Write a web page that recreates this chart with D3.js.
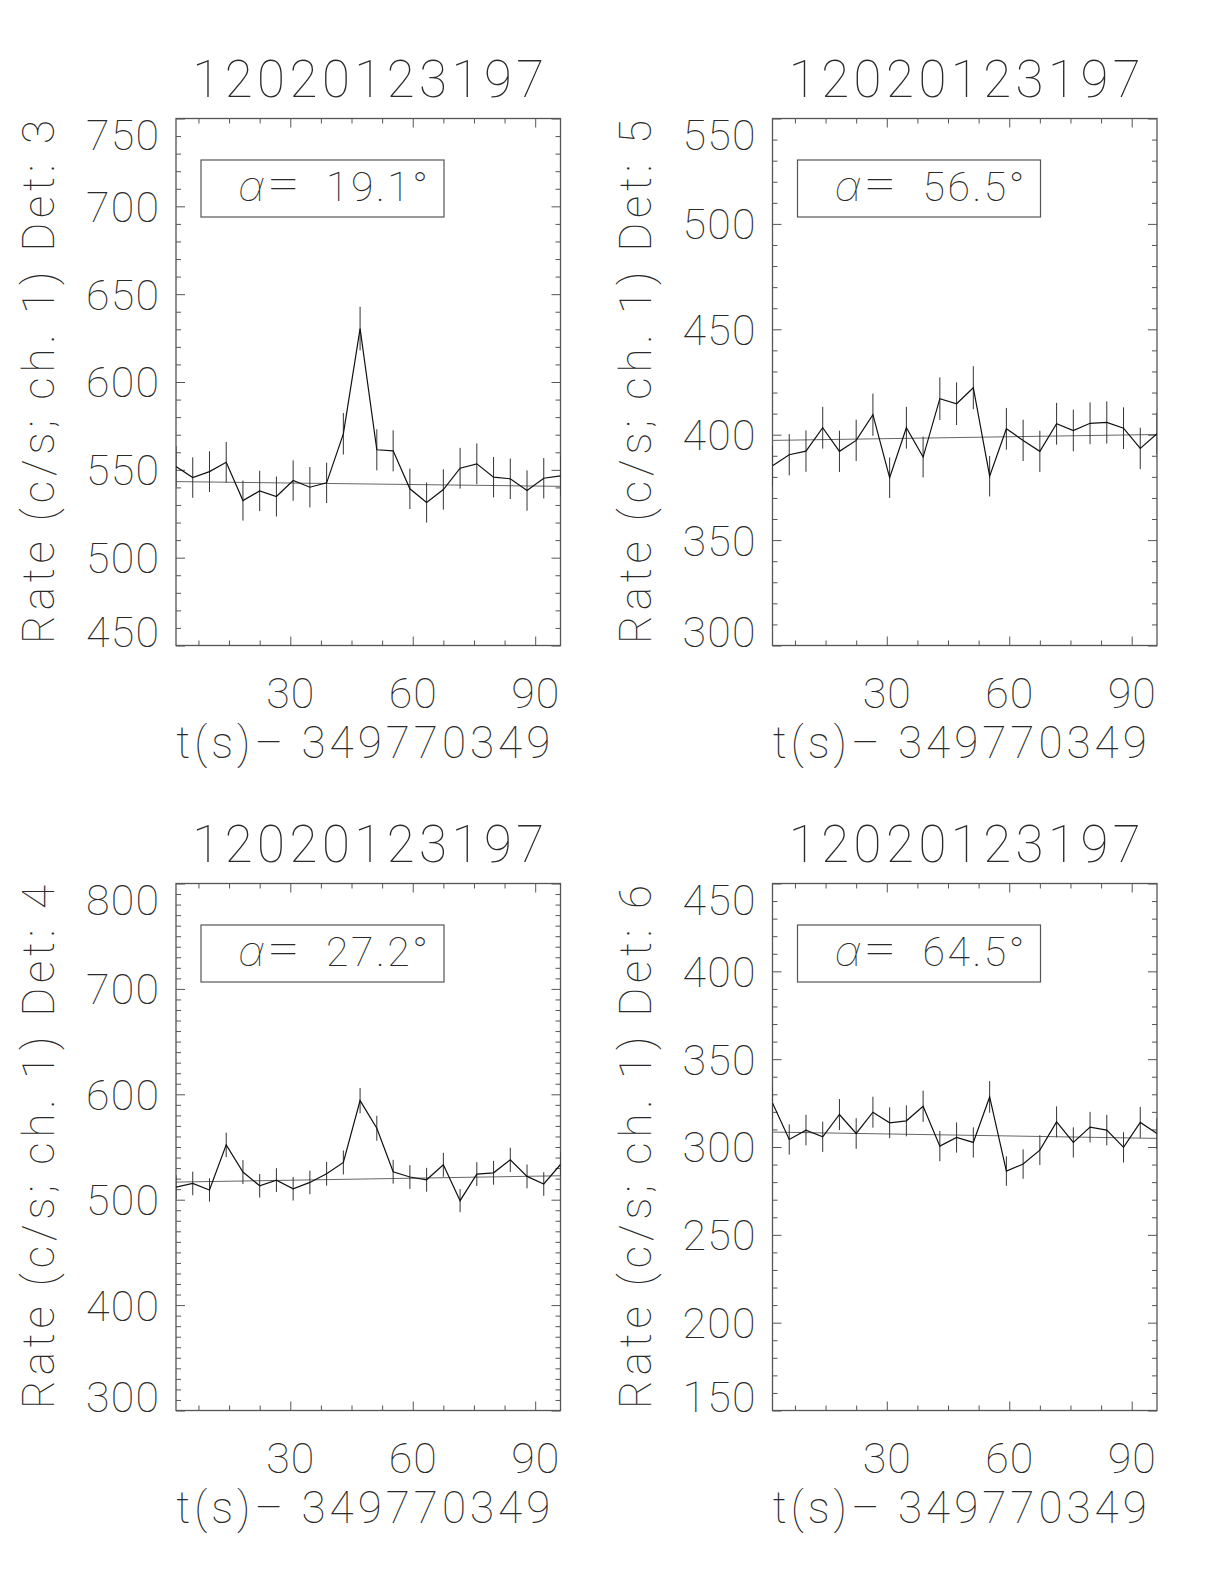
<!DOCTYPE html>
<html><head><meta charset="utf-8">
<script src="https://cdn.jsdelivr.net/npm/d3@7"></script>
<style>
body{margin:0;background:#fff}
text{font-family:Roboto,"DejaVu Sans",sans-serif;font-weight:100;fill:#2a2a2a}
</style>
</head><body>
<svg id="c" width="1224" height="1584" xmlns="http://www.w3.org/2000/svg"></svg>
<script>
// ---------------- data ----------------
const grbName = "12020123197";
const timeOffset = "349770349";
const times = [2.0, 6.1, 10.2, 14.3, 18.4, 22.5, 26.6, 30.7, 34.8, 38.9, 43.0, 47.1,
               51.2, 55.2, 59.3, 63.4, 67.5, 71.6, 75.7, 79.8, 83.9, 88.0, 92.1, 96.2];
const xMajorTicks = [30, 60, 90];
const xMinorTicks = [7.5, 15, 22.5, 37.5, 45, 52.5, 67.5, 75, 82.5];
const detectors = [3, 5, 4, 6];
const angles = ["19.1", "56.5", "27.2", "64.5"];
const yDomains = [[450, 750], [300, 550], [300, 800], [150, 450]];
const yMajorSteps = [50, 50, 100, 50];
const yMinorStep = 10;

const det3Rate = [551.9, 545.6, 549.0, 554.3, 532.5, 538.0, 534.8, 543.9, 540.1, 542.6, 570.5, 630.4,
                  561.4, 560.8, 539.2, 531.4, 538.8, 550.9, 553.4, 545.8, 544.9, 538.2, 545.2, 546.6];
const det3Err  = [11.6, 11.5, 11.6, 11.6, 11.4, 11.5, 11.4, 11.5, 11.5, 11.5, 11.8, 12.4,
                  11.7, 11.7, 11.5, 11.4, 11.5, 11.6, 11.6, 11.5, 11.5, 11.5, 11.5, 11.6];
const det3Fit  = [543.3, 540.6];

const det5Rate = [385.3, 390.5, 392.2, 403.3, 392.1, 397.3, 409.5, 379.6, 403.3, 389.4, 417.1, 414.7,
                  422.3, 380.3, 402.8, 397.3, 392.1, 405.2, 402.0, 405.4, 405.8, 403.1, 393.5, 400.5];
const det5Err  = [9.7, 9.8, 9.8, 9.9, 9.8, 9.8, 10.0, 9.6, 9.9, 9.7, 10.1, 10.1,
                  10.2, 9.6, 9.9, 9.8, 9.8, 9.9, 9.9, 9.9, 10.0, 9.9, 9.8, 9.9];
const det5Fit  = [397.3, 400.1];

const det4Rate = [512.0, 515.4, 509.2, 552.0, 526.2, 513.2, 518.6, 510.4, 516.4, 524.6, 535.3, 594.0,
                  567.8, 526.5, 521.5, 518.9, 533.1, 499.1, 524.3, 525.5, 537.8, 522.1, 514.9, 533.4];
const det4Err  = [11.2, 11.2, 11.1, 11.6, 11.3, 11.2, 11.3, 11.2, 11.2, 11.3, 11.4, 12.0,
                  11.8, 11.3, 11.3, 11.3, 11.4, 11.0, 11.3, 11.3, 11.5, 11.3, 11.2, 11.4];
const det4Fit  = [516.7, 522.7];

const det6Rate = [325.1, 304.3, 309.6, 305.8, 318.5, 307.7, 319.8, 313.8, 314.9, 323.2, 300.5, 305.4,
                  302.6, 328.5, 286.3, 290.3, 298.2, 314.3, 302.6, 311.3, 309.6, 299.8, 314.0, 307.7];
const det6Err  = [8.9, 8.6, 8.7, 8.6, 8.8, 8.7, 8.8, 8.8, 8.8, 8.9, 8.6, 8.6,
                  8.6, 9.0, 8.4, 8.4, 8.5, 8.8, 8.6, 8.7, 8.7, 8.6, 8.8, 8.7];
const det6Fit  = [308.5, 304.9];

const rates = [det3Rate, det5Rate, det4Rate, det6Rate];
const errs  = [det3Err, det5Err, det4Err, det6Err];
const fits  = [det3Fit, det5Fit, det4Fit, det6Fit];

// ---------------- layout ----------------
const svg = d3.select("#c");
const boxW = 384.5, boxH = 527;
const lefts = [176, 772.5], tops = [118.5, 883.5];
const axisColor = "#555";

rates.forEach((rate, i) => {
  const x0 = lefts[i % 2], y0 = tops[Math.floor(i / 2)];
  const g = svg.append("g").attr("transform", `translate(${x0},${y0})`);
  const x = d3.scaleLinear().domain([times[0], times[times.length - 1]]).range([0, boxW]);
  const [ylo, yhi] = yDomains[i];
  const y = d3.scaleLinear().domain([ylo, yhi]).range([boxH, 0]);
  const majY = d3.range(ylo, yhi + 0.001, yMajorSteps[i]);
  const minY = d3.range(ylo, yhi + 0.001, yMinorStep).filter(v => !majY.includes(v));

  const clipId = "clip" + i;
  g.append("clipPath").attr("id", clipId).append("rect").attr("width", boxW).attr("height", boxH);

  // ticks via d3 axes (inward)
  const mkAxis = (fn, sc, vals, len) => fn(sc).tickValues(vals).tickSize(-len).tickFormat("");
  const axes = [
    [d3.axisBottom, x, xMajorTicks, 9, `translate(0,${boxH})`],
    [d3.axisBottom, x, xMinorTicks, 5, `translate(0,${boxH})`],
    [d3.axisTop, x, xMajorTicks, 9, `translate(0,0)`],
    [d3.axisTop, x, xMinorTicks, 5, `translate(0,0)`],
    [d3.axisLeft, y, majY, 9, `translate(0,0)`],
    [d3.axisLeft, y, minY, 5, `translate(0,0)`],
    [d3.axisRight, y, majY, 9, `translate(${boxW},0)`],
    [d3.axisRight, y, minY, 5, `translate(${boxW},0)`]
  ];
  axes.forEach(([fn, sc, vals, len, tr]) => {
    const a = g.append("g").attr("transform", tr).call(mkAxis(fn, sc, vals, len));
    a.select(".domain").remove();
    a.selectAll("line").attr("stroke", axisColor).attr("stroke-width", 1);
  });
  g.append("rect").attr("width", boxW).attr("height", boxH)
    .attr("fill", "none").attr("stroke", axisColor).attr("stroke-width", 1.3);

  // y tick labels (IDL style, clamped inside box extent)
  g.selectAll(".ylab").data(majY).enter().append("text")
    .attr("x", -17)
    .attr("y", d => Math.min(Math.max(y(d), 16), boxH - 14))
    .attr("dy", "0.36em")
    .attr("text-anchor", "end")
    .attr("font-size", 43)
    .attr("textLength", 73).attr("lengthAdjust", "spacing")
    .text(d => d);

  // x tick labels
  g.selectAll(".xlab").data(xMajorTicks).enter().append("text")
    .attr("x", d => x(d)).attr("y", boxH + 62)
    .attr("text-anchor", "middle").attr("font-size", 43)
    .attr("textLength", 48).attr("lengthAdjust", "spacing")
    .text(d => d);

  // title
  g.append("text").attr("x", boxW / 2).attr("y", -22)
    .attr("text-anchor", "middle").attr("font-size", 51)
    .attr("textLength", 352).attr("lengthAdjust", "spacing")
    .text(grbName);

  // x axis label
  g.append("text").attr("x", boxW / 2 - 5).attr("y", boxH + 112)
    .attr("text-anchor", "middle").attr("font-size", 44)
    .attr("textLength", 374).attr("lengthAdjust", "spacing")
    .text("t(s)\u2013 " + timeOffset);

  // y axis label
  g.append("text")
    .attr("transform", `translate(-122,${boxH / 2}) rotate(-90)`)
    .attr("text-anchor", "middle").attr("font-size", 44)
    .attr("textLength", 524).attr("lengthAdjust", "spacing")
    .text("Rate (c/s; ch. 1) Det: " + detectors[i]);

  // legend box
  g.append("rect").attr("x", 25).attr("y", 41.5).attr("width", 243).attr("height", 57)
    .attr("fill", "none").attr("stroke", axisColor).attr("stroke-width", 1.2);
  g.append("text").attr("x", 62).attr("y", 82).attr("font-size", 42)
    .attr("font-style", "italic")
    .style("font-family", "Inter, 'Noto Sans', sans-serif").style("font-weight", 100)
    .text("\u03b1");
  g.append("text").attr("x", 91).attr("y", 80).attr("font-size", 46)
    .attr("textLength", 33).attr("lengthAdjust", "spacingAndGlyphs")
    .text("=");
  g.append("text").attr("x", 150).attr("y", 82).attr("font-size", 41)
    .attr("textLength", 102).attr("lengthAdjust", "spacing")
    .text(angles[i] + "\u00b0");

  const plot = g.append("g").attr("clip-path", `url(#${clipId})`);

  // background fit
  plot.append("line")
    .attr("x1", x(times[0])).attr("x2", x(times[times.length - 1]))
    .attr("y1", y(fits[i][0])).attr("y2", y(fits[i][1]))
    .attr("stroke", "#666").attr("stroke-width", 1);

  // error bars
  plot.selectAll(".eb").data(rate).enter().append("line")
    .attr("x1", (d, k) => x(times[k])).attr("x2", (d, k) => x(times[k]))
    .attr("y1", (d, k) => y(d - errs[i][k])).attr("y2", (d, k) => y(d + errs[i][k]))
    .attr("stroke", "#333").attr("stroke-width", 1);

  // light curve
  plot.append("path")
    .datum(rate)
    .attr("d", d3.line().x((d, k) => x(times[k])).y(d => y(d)))
    .attr("fill", "none").attr("stroke", "#111").attr("stroke-width", 1.2);
});
</script>
</body></html>
